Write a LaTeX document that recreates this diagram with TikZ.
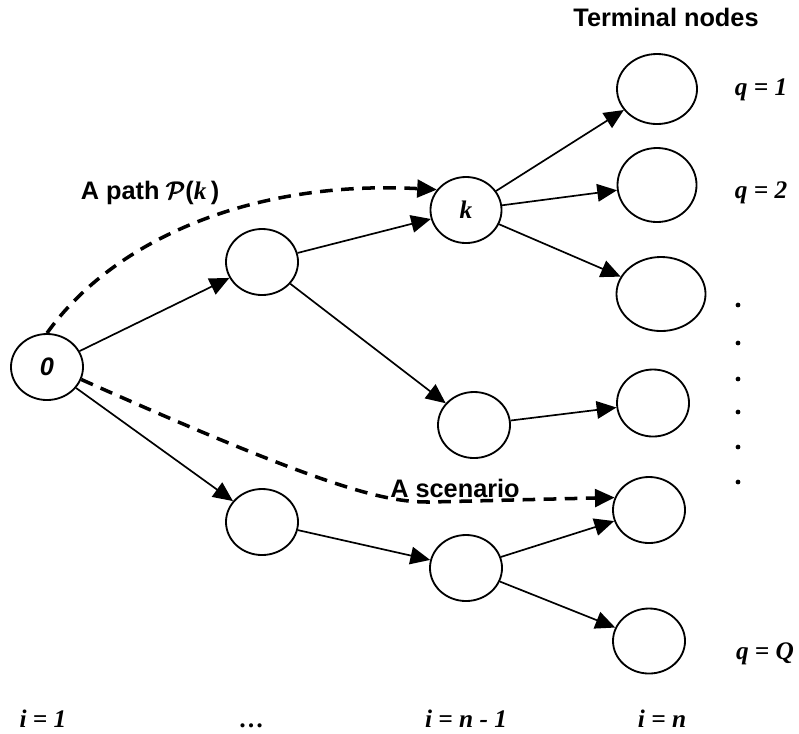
\documentclass[tikz,border=0pt]{standalone}
\usepackage{amsmath}
\usepackage{fontspec}
\setmainfont{Liberation Sans}
\newfontfamily\tnr{Liberation Serif}
\usetikzlibrary{arrows.meta,shapes.geometric}

\begin{document}
\begin{tikzpicture}[x=0.025cm, y=-0.025cm,
		stage/.style={draw, ellipse, line width=1.3pt, minimum width=1.8cm, minimum height=1.65cm, inner sep=0pt, font=\fontsize{18}{20}\selectfont\bfseries\itshape},
		link/.style={-{Triangle[length=14pt,width=12.5pt]}, line width=1.2pt},
		scen/.style={link, line width=2.5pt, dash pattern=on 9pt off 6pt},
		lab/.style={font=\fontsize{18}{20}\selectfont\bfseries\itshape\tnr},
		txt/.style={font=\fontsize{18}{20}\selectfont\bfseries}]
	\useasboundingbox (0,0) rectangle (799,733);
	\node[stage] (n0) at (47,367) {0};
	\node[stage] (a) at (262,262) {};
	\node[stage] (b) at (262,522) {};
	\node[stage, minimum width=1.775cm] (k) at (466,210) {\tnr k};
	\node[stage] (c) at (474,425) {};
	\node[stage] (d) at (466,568) {};
	\node[stage, minimum width=2cm, minimum height=1.75cm] (t1) at (657,89) {};
	\node[stage, minimum width=1.975cm, minimum height=1.85cm] (t2) at (657,185) {};
	\node[stage, minimum width=2.225cm, minimum height=1.85cm] (t3) at (661,294) {};
	\node[stage, minimum height=1.675cm] (t4) at (653,403) {};
	\node[stage] (t5) at (649,510) {};
	\node[stage, minimum height=1.625cm] (tQ) at (649,641) {};

	\draw[link] (n0) -- (a);
	\draw[link] (n0) -- (b);
	\draw[link] (a) -- (k);
	\draw[link] (a) -- (c);
	\draw[link] (b) -- (d);
	\draw[link] (k) -- (t1);
	\draw[link] (k) -- (t2);
	\draw[link] (k) -- (t3);
	\draw[link] (c) -- (t4);
	\draw[link] (d) -- (t5);
	\draw[link] (d) -- (tQ);

	\draw[scen] (n0.north) .. controls (115,238) and (255,180) .. (k.145);
	\draw[scen] (n0.-20) .. controls (340,495) and (390,502) .. (430,502) -- (t5.160);

	\foreach \y in {305,343,379,412,447,482}
		\fill (738,\y) circle (1.7pt);

	\node[txt] (title) at (666,17) {Terminal nodes};
	\node[txt] (pathlab) at (150,193) {A path $\pmb{\mathcal{P}}$({\tnr\itshape k\,})};
	\node[txt] (scenlab) at (455,488) {A scenario};
	\node[lab] (q1) at (761,90) {q = 1};
	\node[lab] (q2) at (761,193) {q = 2};
	\node[lab] (qQ) at (765,654) {q = Q};
	\node[lab, anchor=base] (i1) at (43,727) {i = 1};
	\node[lab, anchor=base] (idots) at (252,727) {…};
	\node[lab, anchor=base] (in1) at (466,727) {i = n - 1};
	\node[lab, anchor=base] (in) at (662,727) {i = n};
\end{tikzpicture}
\end{document}
